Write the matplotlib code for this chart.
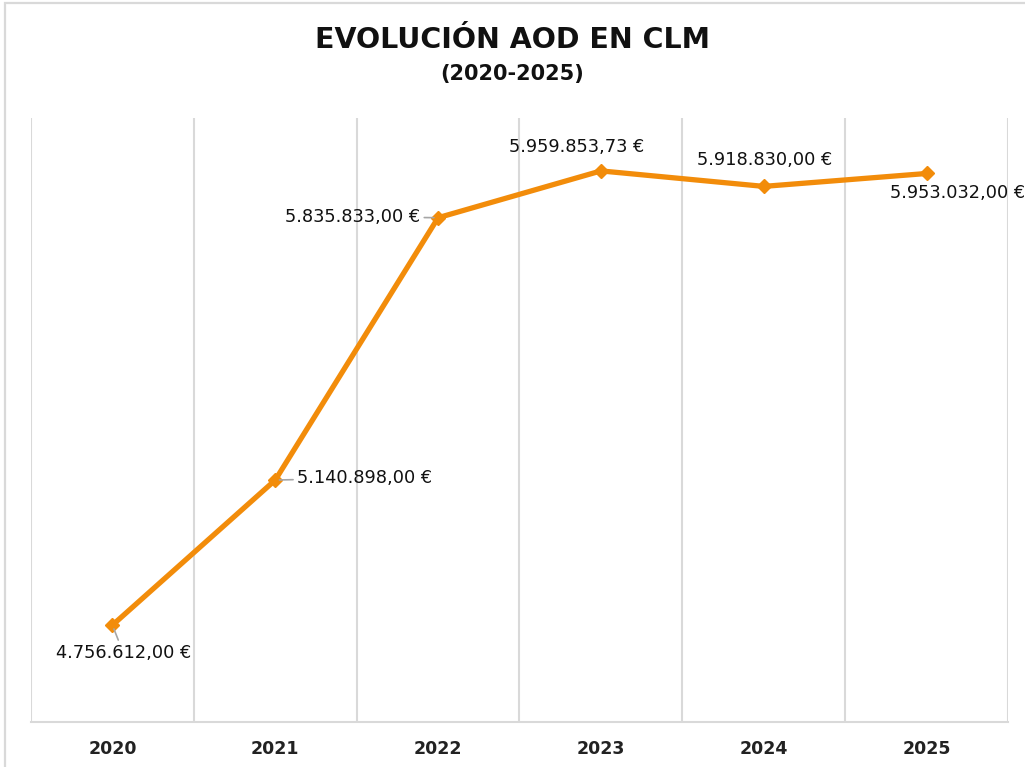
import matplotlib
matplotlib.use("Agg")
import matplotlib.pyplot as plt
from matplotlib.patches import Rectangle

years = ["2020", "2021", "2022", "2023", "2024", "2025"]
values = [4756612.00, 5140898.00, 5835833.00, 5959853.73, 5918830.00, 5953032.00]
labels = ["4.756.612,00 €", "5.140.898,00 €", "5.835.833,00 €",
          "5.959.853,73 €", "5.918.830,00 €", "5.953.032,00 €"]
title = "EVOLUCIÓN AOD EN CLM"
subtitle = "(2020-2025)"

W, H = 1025, 767
fig = plt.figure(figsize=(W / 100, H / 100), dpi=100)
fig.patch.set_facecolor("white")

# outer chart border (cut at right/bottom)
fig.patches.append(Rectangle((5 / W, -0.05), 1.1, 1 - 3 / H + 0.05, transform=fig.transFigure,
                             fill=False, edgecolor="#d9d9d9", linewidth=1.6, zorder=0))

ax = fig.add_axes([31 / W, 1 - 722 / H, (1008 - 31) / W, (722 - 118) / H])
ax.set_xlim(-0.5, 5.5)
ax.set_ylim(4.5e6, 6.1e6)

x = list(range(len(years)))
grid_col = "#d9d9d9"
for b in [i - 0.5 for i in range(len(years) + 1)]:
    ax.axvline(b, color=grid_col, linewidth=1.5, zorder=1)

for s in ["top", "left", "right"]:
    ax.spines[s].set_visible(False)
ax.spines["bottom"].set_color(grid_col)
ax.spines["bottom"].set_linewidth(1.5)
ax.set_yticks([])
ax.set_xticks(x)
ax.set_xticklabels(years, fontsize=12.5, fontweight="bold", color="#222222",
                   fontfamily="DejaVu Sans")
ax.tick_params(axis="x", length=0, pad=13)

orange = "#F28C0A"
ax.plot(x, values, color=orange, linewidth=3.8, marker="D", markersize=7.5,
        markerfacecolor=orange, markeredgecolor=orange, zorder=3, clip_on=False)

# label offsets in pixels (dx, dy), alignment, leader line
specs = [
    (11, -28, "center", True),
    (22, 2, "left", True),
    (-18, 1, "right", True),
    (-24, 24, "center", False),
    (1, 26, "center", False),
    (31, -20, "center", False),
]
for xi, v, lab, (dx, dy, ha, leader) in zip(x, values, labels, specs):
    kw = {}
    if leader:
        kw["arrowprops"] = dict(arrowstyle="-", color="#a6a6a6", linewidth=1.2,
                                shrinkA=1, shrinkB=3)
    ax.annotate(lab, xy=(xi, v), xytext=(dx, dy), textcoords="offset pixels",
                ha=ha, va="center", fontsize=12.8, color="#111111",
                fontfamily="DejaVu Sans", annotation_clip=False, **kw)

fig.text(0.5, 1 - 40 / H, title, ha="center", va="center", fontsize=20.5,
         fontweight="bold", color="#111111", fontfamily="DejaVu Sans")
fig.text(0.5, 1 - 74 / H, subtitle, ha="center", va="center", fontsize=15,
         fontweight="bold", color="#111111", fontfamily="DejaVu Sans")

fig.savefig("out.png", dpi=100, facecolor="white")
